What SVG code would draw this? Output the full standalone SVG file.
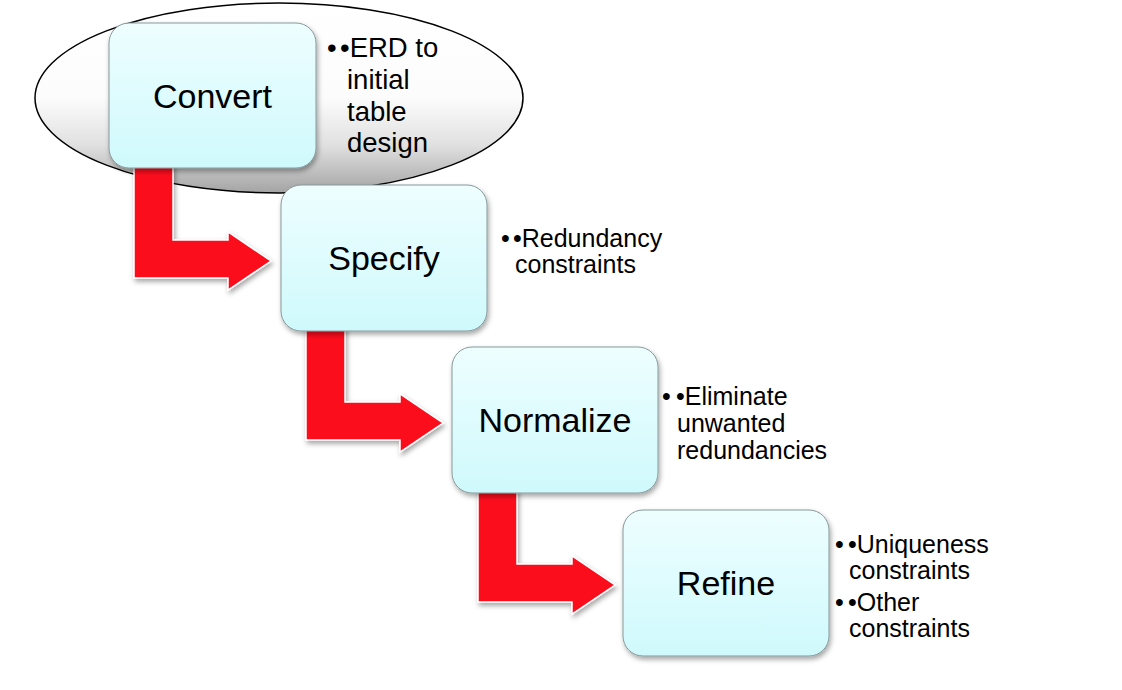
<svg xmlns="http://www.w3.org/2000/svg" width="1122" height="690" viewBox="0 0 1122 690">
<defs>
<linearGradient id="ellG" x1="0" y1="0" x2="0" y2="1">
<stop offset="0" stop-color="#ffffff"/>
<stop offset="0.5" stop-color="#fcfcfc"/>
<stop offset="0.75" stop-color="#e0e0e0"/>
<stop offset="1" stop-color="#a4a4a4"/>
</linearGradient>
<linearGradient id="boxG" x1="0" y1="0" x2="0" y2="1">
<stop offset="0" stop-color="#eefeff"/>
<stop offset="1" stop-color="#cff9fc"/>
</linearGradient>
<filter id="sh" x="-20%" y="-20%" width="150%" height="150%">
<feDropShadow dx="1.5" dy="3" stdDeviation="2.5" flood-color="#000" flood-opacity="0.35"/>
</filter>
</defs>
<style>
.box{fill:url(#boxG);stroke:#86999a;stroke-width:1;filter:url(#sh)}
.arrow{fill:#fc0d1e;stroke:#ffffff;stroke-width:1.5;filter:url(#sh)}
.title{font-family:"Liberation Sans",Arial,sans-serif;font-size:34px;fill:#000;text-anchor:middle}
.b1{font-family:"Liberation Sans",Arial,sans-serif;font-size:27.5px;fill:#000}
.b2{font-family:"Liberation Sans",Arial,sans-serif;font-size:25px;fill:#000}
</style>
<rect width="1122" height="690" fill="#ffffff"/>
<ellipse cx="279" cy="98" rx="244" ry="95" fill="url(#ellG)" stroke="#000" stroke-width="1.5"/>
<g id="connectors">
<path class="arrow" d="M134,160 H173 V240 H228 V232 L271,261 L228,290 V278 H134 Z"/>
<path class="arrow" d="M306,322 H345 V402 H400 V394 L443,423 L400,452 V440 H306 Z"/>
<path class="arrow" d="M478,484 H517 V564 H572 V556 L615,585 L572,614 V602 H478 Z"/>
</g>
<g id="node-convert">
<rect class="box" x="109" y="23" width="207" height="145" rx="20"/>
<text class="title" x="212.5" y="107.5">Convert</text>
<text class="b1" x="327" y="57">•</text>
<text class="b1" x="340" y="57">•ERD to</text>
<text class="b1" x="347" y="89">initial</text>
<text class="b1" x="347" y="121">table</text>
<text class="b1" x="347" y="152">design</text>
</g>
<g id="node-specify">
<rect class="box" x="281" y="185" width="206" height="146" rx="20"/>
<text class="title" x="384" y="270">Specify</text>
<text class="b2" x="501" y="247">•</text>
<text class="b2" x="513" y="247">•Redundancy</text>
<text class="b2" x="515" y="273">constraints</text>
</g>
<g id="node-normalize">
<rect class="box" x="452" y="347" width="206" height="146" rx="20"/>
<text class="title" x="555" y="432">Normalize</text>
<text class="b2" x="662" y="405">•</text>
<text class="b2" x="676" y="405">•Eliminate</text>
<text class="b2" x="677" y="432">unwanted</text>
<text class="b2" x="677" y="459">redundancies</text>
</g>
<g id="node-refine">
<rect class="box" x="623" y="510" width="206" height="146" rx="20"/>
<text class="title" x="726" y="595">Refine</text>
<text class="b2" x="835" y="553">•</text>
<text class="b2" x="848" y="553">•Uniqueness</text>
<text class="b2" x="849" y="579">constraints</text>
<text class="b2" x="835" y="611">•</text>
<text class="b2" x="848" y="611">•Other</text>
<text class="b2" x="849" y="637">constraints</text>
</g>
</svg>
